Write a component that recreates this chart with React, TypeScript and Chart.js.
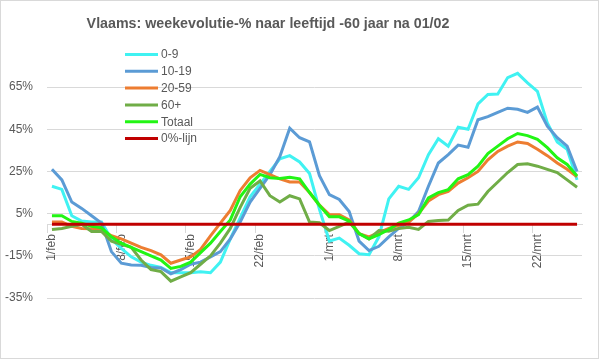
import React, { useEffect, useRef } from 'react';
import { Chart, registerables } from 'chart.js';

Chart.register(...registerables);

const TITLE = 'Vlaams: weekevolutie-% naar leeftijd -60 jaar na 01/02';

const CATEGORIES = [
  '1/feb', '2/feb', '3/feb', '4/feb', '5/feb', '6/feb', '7/feb',
  '8/feb', '9/feb', '10/feb', '11/feb', '12/feb', '13/feb', '14/feb',
  '15/feb', '16/feb', '17/feb', '18/feb', '19/feb', '20/feb', '21/feb',
  '22/feb', '23/feb', '24/feb', '25/feb', '26/feb', '27/feb', '28/feb',
  '1/mrt', '2/mrt', '3/mrt', '4/mrt', '5/mrt', '6/mrt', '7/mrt',
  '8/mrt', '9/mrt', '10/mrt', '11/mrt', '12/mrt', '13/mrt', '14/mrt',
  '15/mrt', '16/mrt', '17/mrt', '18/mrt', '19/mrt', '20/mrt', '21/mrt',
  '22/mrt', '23/mrt', '24/mrt', '25/mrt', '26/mrt',
];

const AGE_0_9 = [
  18, 16.5, 4, 1.5, 1, 1, -7, -11.5, -15.5, -18, -19.5, -20.5, -23, -23,
  -23, -22.5, -23, -18, -7, 3, 13, 19, 25, 31, 32.5, 29.5, 24, 7,
  -8, -6.6, -10, -14, -14.5, -6, 12, 18, 16.5, 22, 33, 40.5, 37, 46,
  45, 57, 61.5, 61.7, 69.5, 71.5, 67, 63, 48, 39, 35.5, 21,
];

const AGE_10_19 = [
  26, 21, 10.5, 7.5, 4, 0.5, -13, -18.5, -19.3, -19.5, -20.5, -20.8, -23.5, -21.5,
  -19, -18, -15.5, -13, -7, 1, 10.5, 17, 23.5, 32, 45.5, 41, 39, 23,
  14, 11.7, 6, -8, -12.5, -10.5, -6, -2, 1, 6, 18, 29, 33, 37.5,
  36.5, 49.5, 51, 53, 55, 54.5, 53, 55.5, 46.5, 41, 37, 25,
];

const AGE_20_59 = [
  1, 1, -1, -2, -2.2, -2.6, -5.5, -7, -9, -11, -12.5, -14.5, -18.5, -17,
  -15.5, -12, -5.5, 0.5, 6.5, 16, 22, 25.5, 23.5, 21.5, 20, 20, 15, 9,
  4.5, 4.5, 2, -4.5, -6, -4, -2, -0.5, 1, 5, 11, 14, 15.5, 19.5,
  22, 25, 30.5, 34.5, 37, 39, 38.3, 35.5, 32.5, 29, 26, 22.5,
];

const AGE_60_PLUS = [
  -2.5, -2, -1, 0, -3.5, -3.4, -8, -9.5, -11, -17, -21.5, -22.5, -27, -25,
  -23, -19, -15, -9, -2, 8, 17, 20.5, 13.5, 10.5, 13.5, 12, 1, 0.7,
  -3, -1, 1, -4.5, -7, -3, -3.3, -2, -1.5, -2.5, 1.3, 1.7, 2, 6.5,
  9, 9.5, 15.5, 20, 24.5, 28.3, 28.6, 27.5, 26, 24.5, 21, 17.5,
];

const TOTAAL = [
  4, 4, 1.3, 0.5, -1, -1.7, -6, -9, -11, -13, -15, -17, -21, -20,
  -18, -13.5, -9, -3.5, 2, 13, 19, 23.6, 22, 21.7, 22.3, 21.5, 15, 9,
  3.5, 3.5, 1.5, -4.5, -7, -5, -2.5, 0.5, 2, 4.5, 12.5, 15, 16.4, 21.5,
  23.5, 27.5, 33.5, 37, 40.5, 43, 42, 40.2, 36.3, 31.5, 28.3, 22.8,
];

const ZERO_LINE = [
  0, 0, 0, 0, 0, 0, 0, 0, 0, 0, 0, 0, 0, 0,
  0, 0, 0, 0, 0, 0, 0, 0, 0, 0, 0, 0, 0, 0,
  0, 0, 0, 0, 0, 0, 0, 0, 0, 0, 0, 0, 0, 0,
  0, 0, 0, 0, 0, 0, 0, 0, 0, 0, 0, 0,
];

const SERIES_NAMES = ['0-9', '10-19', '20-59', '60+', 'Totaal', '0%-lijn'];
const SERIES_COLORS = ['#40F2F2', '#5B9BD5', '#ED7D31', '#70AD47', '#22F514', '#C00000'];
const SERIES_DATA = [AGE_0_9, AGE_10_19, AGE_20_59, AGE_60_PLUS, TOTAAL, ZERO_LINE];

const Y_TICKS = [-35, -15, 5, 25, 45, 65];

const FONT = '"Liberation Sans", Arial, sans-serif';
const TEXT_COLOR = '#595959';
const GRID_COLOR = '#D9D9D9';

const overlayPlugin = {
  id: 'overlay',
  afterDraw(chart: any) {
    const ctx = chart.ctx as CanvasRenderingContext2D;
    ctx.save();
    // outer border
    ctx.strokeStyle = GRID_COLOR;
    ctx.lineWidth = 1;
    ctx.strokeRect(0.5, 0.5, chart.width - 1, chart.height - 1);
    // title
    ctx.fillStyle = TEXT_COLOR;
    ctx.font = `bold 15px ${FONT}`;
    const w = ctx.measureText(TITLE).width;
    const size = Math.min(16, (15 * 363) / w);
    ctx.font = `bold ${size.toFixed(2)}px ${FONT}`;
    ctx.textAlign = 'center';
    ctx.textBaseline = 'middle';
    ctx.fillText(TITLE, 268, 24);
    // legend
    ctx.font = `12px ${FONT}`;
    ctx.textAlign = 'left';
    ctx.textBaseline = 'middle';
    SERIES_NAMES.forEach((name, i) => {
      const y = 54.5 + i * 16.8;
      ctx.strokeStyle = SERIES_COLORS[i];
      ctx.lineWidth = 3;
      ctx.beginPath();
      ctx.moveTo(125, y);
      ctx.lineTo(158, y);
      ctx.stroke();
      ctx.fillStyle = TEXT_COLOR;
      ctx.fillText(name, 161, y + 0.5);
    });
    ctx.restore();
  },
};

export default function App() {
  const canvasRef = useRef<HTMLCanvasElement | null>(null);

  useEffect(() => {
    if (!canvasRef.current) return;
    const datasets = SERIES_NAMES.map((name, i) => ({
      label: name,
      data: SERIES_DATA[i],
      borderColor: SERIES_COLORS[i],
      backgroundColor: SERIES_COLORS[i],
      borderWidth: 3,
      pointRadius: 0,
      tension: 0,
      fill: false,
      order: SERIES_NAMES.length - i,
    }));
    const chart = new Chart(canvasRef.current, {
      type: 'line',
      data: { labels: CATEGORIES, datasets },
      plugins: [overlayPlugin],
      options: {
        animation: false,
        responsive: false,
        maintainAspectRatio: false,
        devicePixelRatio: 1,
        layout: { padding: { left: 0, top: 66, right: 17, bottom: 61 } },
        plugins: {
          legend: { display: false },
          title: { display: false },
          tooltip: { enabled: false },
        },
        scales: {
          x: {
            type: 'category',
            offset: true,
            position: { y: 0 } as any,
            grid: {
              display: true,
              drawOnChartArea: false,
              offset: true,
              tickLength: 8,
              color: (c: any) => (c.index % 7 === 0 ? GRID_COLOR : 'rgba(0,0,0,0)'),
            },
            border: { display: true, color: GRID_COLOR },
            ticks: {
              autoSkip: false,
              maxRotation: 90,
              minRotation: 90,
              padding: 2,
              color: TEXT_COLOR,
              font: { family: FONT, size: 12 },
              callback: (_v: any, i: number) => (i % 7 === 0 ? CATEGORIES[i] : ''),
            },
          },
          y: {
            type: 'linear',
            min: -35,
            max: 75,
            afterBuildTicks: (s: any) => {
              s.ticks = Y_TICKS.map((v) => ({ value: v }));
            },
            afterFit: (s: any) => {
              s.width = 47;
            },
            grid: { color: GRID_COLOR, drawTicks: false },
            border: { display: false },
            ticks: {
              padding: 14,
              color: TEXT_COLOR,
              font: { family: FONT, size: 12 },
              callback: (v: any) => `${v}%`,
            },
          },
        },
      },
    });
    return () => chart.destroy();
  }, []);

  return (
    <div style={{ position: 'absolute', left: 0, top: 0, width: 599, height: 359, background: '#fff' }}>
      <canvas ref={canvasRef} width={599} height={359} style={{ width: 599, height: 359, display: 'block' }} />
    </div>
  );
}
